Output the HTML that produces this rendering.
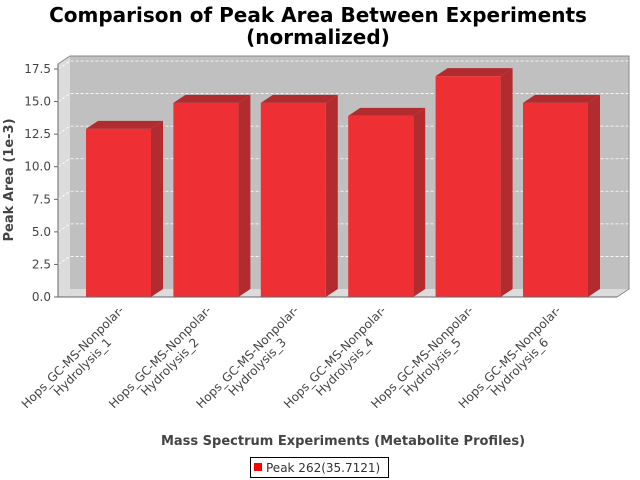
<!DOCTYPE html>
<html><head><meta charset="utf-8"><style>
body{margin:0;background:#fff;}
svg{display:block;font-family:"DejaVu Sans","Liberation Sans",sans-serif;}
</style></head><body>
<svg id="c" width="640" height="480">
<text x="318" y="22" text-anchor="middle" font-size="20" font-weight="bold">Comparison of Peak Area Between Experiments</text>
<text x="318" y="44" text-anchor="middle" font-size="20" font-weight="bold">(normalized)</text>
<g id="plot"></g>
<text transform="translate(13,180) rotate(-90)" text-anchor="middle" font-size="13" font-weight="bold" fill="#444">Peak Area (1e-3)</text>
<text x="343" y="445" text-anchor="middle" font-size="13" font-weight="bold" fill="#444">Mass Spectrum Experiments (Metabolite Profiles)</text>
<g>
<rect x="250.5" y="457.5" width="138" height="20" fill="#fff" stroke="#000"/>
<rect x="254" y="463" width="8" height="8" fill="#ff0000"/>
<text x="266" y="472" font-size="12" fill="#333">Peak 262(35.7121)</text>
</g>
</svg>
<script>
const categories=["Hops_GC-MS-Nonpolar-Hydrolysis_1","Hops_GC-MS-Nonpolar-Hydrolysis_2","Hops_GC-MS-Nonpolar-Hydrolysis_3","Hops_GC-MS-Nonpolar-Hydrolysis_4","Hops_GC-MS-Nonpolar-Hydrolysis_5","Hops_GC-MS-Nonpolar-Hydrolysis_6"];
const values=[12.9,14.9,14.9,13.9,16.95,14.9];
const ticks=[0,2.5,5,7.5,10,12.5,15,17.5];
const tickLabels=["0.0","2.5","5.0","7.5","10.0","12.5","15.0","17.5"];
const NS="http://www.w3.org/2000/svg";
const g=document.getElementById('plot');
const X0=58,X1=617,Y0=297,DX=12,DY=8,TOP=64;
const yMax=17.5, yPx=228;
function y(v){return Y0-v/yMax*yPx;}
const n=categories.length;
const bw=65, firstL=86, lastR=588;
const step=(lastR-firstL-bw)/(n-1);
function xc(i){return firstL+bw/2+i*step;}
function mk(t,a){const e=document.createElementNS(NS,t);for(const k in a)e.setAttribute(k,a[k]);g.appendChild(e);return e;}
let e;
e=mk('polygon',{points:`${X0+DX},${TOP-DY} ${X1+DX},${TOP-DY} ${X1+DX},${Y0-DY} ${X0+DX},${Y0-DY}`,fill:'#c0c0c0'});

e=mk('polygon',{points:`${X0},${TOP} ${X0+DX},${TOP-DY} ${X0+DX},${Y0-DY} ${X0},${Y0}`,fill:'#dcdcdc'});

e=mk('polygon',{points:`${X0},${Y0} ${X0+DX},${Y0-DY} ${X1+DX},${Y0-DY} ${X1},${Y0}`,fill:'#dcdcdc'});

ticks.forEach((t,i)=>{
 const yy=y(t);
 if(t>0){
 e=mk('polyline',{points:`${X0},${yy} ${X0+DX},${yy-DY} ${X1+DX},${yy-DY}`,fill:'none',stroke:'#fff','stroke-width':0.8,'stroke-dasharray':'3,2'});
 }
 e=mk('line',{x1:X0-4,x2:X0,y1:yy,y2:yy,stroke:'#666'});
 
 e=mk('text',{x:X0-7,y:yy+4,'text-anchor':'end','font-size':12,fill:'#444'});e.textContent=tickLabels[i];
 
});
e=mk('polyline',{points:`${X0},${TOP} ${X0+DX},${TOP-DY} ${X1+DX},${TOP-DY} ${X1+DX},${Y0-DY} ${X1},${Y0}`,fill:'none',stroke:'#888'});

e=mk('line',{x1:X0,x2:X0,y1:TOP,y2:Y0,stroke:'#666'});

values.forEach((v,i)=>{
 const l=xc(i)-bw/2, r=l+bw, t=y(v);
 e=mk('polygon',{points:`${r},${t} ${r+DX},${t-DY} ${r+DX},${Y0-DY} ${r},${Y0}`,fill:'#b22c2f'});
 
 e=mk('polygon',{points:`${l},${t} ${l+DX},${t-DY} ${r+DX},${t-DY} ${r},${t}`,fill:'#b22c2f'});
 
 e=mk('rect',{x:l,y:t,width:bw,height:Y0-t,fill:'#ee3034'});
 
});
e=mk('line',{x1:X0,x2:X1,y1:Y0,y2:Y0,stroke:'#666'});

categories.forEach((c,i)=>{
 const k=c.indexOf('-Nonpolar-')+10;
 const l1=c.slice(0,k), l2=c.slice(k);
 const cx=xc(i)+DX/2;
 const grp=document.createElementNS(NS,'g');
 grp.setAttribute('transform',`translate(${cx},311) rotate(-45)`);
 
 
 g.appendChild(grp);
 const a=document.createElementNS(NS,'text');
 a.setAttribute('text-anchor','end');a.setAttribute('font-size','12');a.setAttribute('fill','#444');a.textContent=l1;
 grp.appendChild(a);
 const b=document.createElementNS(NS,'text');
 b.setAttribute('font-size','12');b.setAttribute('fill','#444');b.setAttribute('text-anchor','middle');b.textContent=l2;
 grp.appendChild(b);
 const w1=a.getComputedTextLength();
 b.setAttribute('x',-w1/2);b.setAttribute('y',14);
});
</script>
</body></html>
